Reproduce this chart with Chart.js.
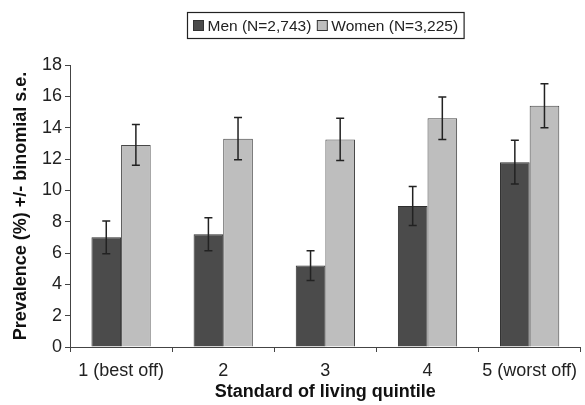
<!DOCTYPE html>
<html>
<head>
<meta charset="utf-8">
<script src="https://cdn.jsdelivr.net/npm/chart.js@4"></script>
<style>
  html, body { margin: 0; padding: 0; background: #fff; }
  #wrap { width: 585px; height: 405px; }
</style>
</head>
<body>
<div id="wrap"><canvas id="barChart"></canvas></div>
<script>
// data
var quintiles = ['1 (best off)', '2', '3', '4', '5 (worst off)'];
var menValues = [7.0, 7.2, 5.2, 9.0, 11.8];
var menSE = [1.05, 1.05, 0.95, 1.25, 1.4];
var womenValues = [12.9, 13.3, 13.25, 14.6, 15.4];
var womenSE = [1.3, 1.35, 1.35, 1.35, 1.4];
var yTicks = [0, 2, 4, 6, 8, 10, 12, 14, 16, 18];

var fontFamily = '"Liberation Sans", Arial, sans-serif';

// binomial s.e. whiskers
var errorBars = {
  id: 'errorBars',
  afterDatasetsDraw: function (chart) {
    var ctx = chart.ctx;
    var y = chart.scales.y;
    ctx.save();
    ctx.strokeStyle = '#222';
    ctx.lineWidth = 1.5;
    chart.data.datasets.forEach(function (ds, di) {
      var meta = chart.getDatasetMeta(di);
      meta.data.forEach(function (bar, i) {
        var v = ds.data[i];
        var e = ds.se[i];
        var top = y.getPixelForValue(v + e);
        var bot = y.getPixelForValue(v - e);
        ctx.beginPath();
        ctx.moveTo(bar.x, top);
        ctx.lineTo(bar.x, bot);
        ctx.moveTo(bar.x - 4, top);
        ctx.lineTo(bar.x + 4, top);
        ctx.moveTo(bar.x - 4, bot);
        ctx.lineTo(bar.x + 4, bot);
        ctx.stroke();
      });
    });
    ctx.restore();
  }
};

// boxed legend at the top
var boxedLegend = {
  id: 'boxedLegend',
  afterDraw: function (chart) {
    var ctx = chart.ctx;
    var area = chart.chartArea;
    ctx.save();
    ctx.font = '15.5px ' + fontFamily;
    var items = chart.data.datasets.map(function (ds) {
      return { text: ds.label, fill: ds.backgroundColor, w: ctx.measureText(ds.label).width };
    });
    var total = 6;
    items.forEach(function (it) { total += 10 + 4 + it.w + 6; });
    var cx = (area.left + area.right) / 2;
    var x0 = Math.round(cx - total / 2) + 0.5;
    var yTop = 12.5, h = 26, mid = yTop + h / 2;
    ctx.strokeStyle = '#222';
    ctx.lineWidth = 1.2;
    ctx.strokeRect(x0, yTop, total, h);
    var x = x0 + 6;
    ctx.textBaseline = 'middle';
    ctx.textAlign = 'left';
    items.forEach(function (it) {
      ctx.fillStyle = it.fill;
      ctx.fillRect(x, mid - 5, 10, 10);
      ctx.strokeStyle = '#333';
      ctx.lineWidth = 1;
      ctx.strokeRect(x, mid - 5, 10, 10);
      x += 14;
      ctx.fillStyle = '#222';
      ctx.fillText(it.text, x, mid + 1);
      x += it.w + 6;
    });
    ctx.restore();
  }
};

new Chart(document.getElementById('barChart').getContext('2d'), {
  type: 'bar',
  data: {
    labels: quintiles,
    datasets: [
      {
        label: 'Men (N=2,743)',
        data: menValues,
        se: menSE,
        backgroundColor: '#4b4b4b',
        borderColor: '#2e2e2e',
        borderWidth: 1
      },
      {
        label: 'Women (N=3,225)',
        data: womenValues,
        se: womenSE,
        backgroundColor: '#bebebe',
        borderColor: '#474747',
        borderWidth: 1
      }
    ]
  },
  options: {
    responsive: true,
    maintainAspectRatio: false,
    animation: false,
    layout: { padding: { top: 65, left: 0, right: 0, bottom: 1 } },
    plugins: {
      legend: { display: false },
      tooltip: { enabled: false }
    },
    datasets: {
      bar: { categoryPercentage: 0.58, barPercentage: 1 }
    },
    scales: {
      x: {
        grid: { drawOnChartArea: false, offset: true, tickLength: 5, color: '#444' },
        border: { color: '#444', width: 1 },
        ticks: { color: '#222', padding: 8, maxRotation: 0, font: { family: fontFamily, size: 18 } },
        title: {
          display: true,
          text: 'Standard of living quintile',
          color: '#111',
          padding: { top: 2, bottom: 1 },
          font: { family: fontFamily, size: 18, weight: 'bold' }
        },
        afterFit: function (scale) { scale.height = 57; }
      },
      y: {
        min: 0,
        max: 18,
        afterBuildTicks: function (scale) {
          scale.ticks = yTicks.map(function (v) { return { value: v }; });
        },
        grid: { drawOnChartArea: false, tickLength: 5, color: '#444' },
        border: { color: '#444', width: 1 },
        ticks: { color: '#222', padding: 3, font: { family: fontFamily, size: 18 } },
        title: {
          display: true,
          text: 'Prevalence (%) +/- binomial s.e.',
          color: '#111',
          padding: { top: 10, bottom: 0 },
          font: { family: fontFamily, size: 18, weight: 'bold' }
        },
        afterFit: function (scale) { scale.width = 70; }
      }
    }
  },
  plugins: [errorBars, boxedLegend]
});
</script>
</body>
</html>
